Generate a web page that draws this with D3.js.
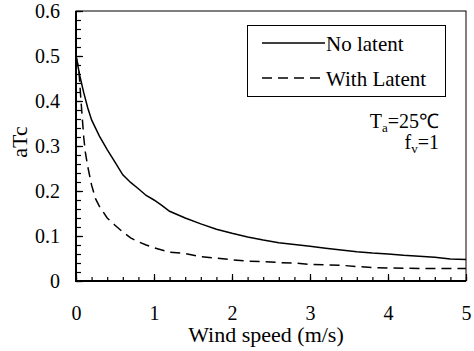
<!DOCTYPE html>
<html>
<head>
<meta charset="utf-8">
<script src="https://cdn.jsdelivr.net/npm/d3@7"></script>
</head>
<body style="margin:0;background:#fff">
<svg id="chart" width="474" height="351" font-family="Liberation Serif, Times New Roman, serif"></svg>
<script>
const width = 474;
const height = 351;
const margin = { top: 11, right: 8, bottom: 70, left: 76 };

// wind speed (m/s) and aTc
const windNoLatent = [0, 0.05, 0.1, 0.15, 0.2, 0.3, 0.4, 0.5, 0.6, 0.7, 0.8, 0.9, 1.0, 1.1, 1.2, 1.4, 1.6, 1.8, 2.0, 2.2, 2.4, 2.6, 2.8, 3.0, 3.2, 3.4, 3.6, 3.8, 4.0, 4.2, 4.4, 4.6, 4.8, 5.0];
const noLatent = [0.50, 0.455, 0.418, 0.385, 0.358, 0.322, 0.292, 0.264, 0.236, 0.219, 0.205, 0.190, 0.180, 0.168, 0.155, 0.140, 0.127, 0.115, 0.106, 0.098, 0.091, 0.085, 0.081, 0.077, 0.073, 0.069, 0.065, 0.062, 0.060, 0.057, 0.055, 0.053, 0.049, 0.048];

const windWithLatent = [0, 0.02, 0.04, 0.06, 0.08, 0.1, 0.12, 0.15, 0.2, 0.25, 0.3, 0.4, 0.5, 0.6, 0.7, 0.8, 0.9, 1.0, 1.2, 1.4, 1.6, 1.8, 2.0, 2.2, 2.4, 2.6, 2.8, 3.0, 3.2, 3.4, 3.6, 3.8, 4.0, 4.4, 5.0];
const withLatent = [0.50, 0.484, 0.462, 0.41, 0.363, 0.318, 0.286, 0.255, 0.213, 0.183, 0.166, 0.140, 0.124, 0.109, 0.096, 0.087, 0.080, 0.074, 0.064, 0.061, 0.054, 0.051, 0.047, 0.044, 0.043, 0.041, 0.040, 0.037, 0.036, 0.035, 0.032, 0.030, 0.029, 0.028, 0.028];

const xTicks = [0, 1, 2, 3, 4, 5];
const yTicks = [0, 0.1, 0.2, 0.3, 0.4, 0.5, 0.6];
const legendLabels = ["No latent", "With Latent"];

const svg = d3.select("#chart");

const x = d3.scaleLinear()
  .domain([0, 5])
  .range([margin.left, width - margin.right]);

const y = d3.scaleLinear()
  .domain([0, 0.6])
  .range([height - margin.bottom, margin.top]);

// frame: thin top/right, thicker left/bottom
svg.append("rect")
  .attr("x", x(0))
  .attr("y", y(0.6))
  .attr("width", x(5) - x(0))
  .attr("height", y(0) - y(0.6))
  .attr("fill", "none")
  .attr("stroke", "#000")
  .attr("stroke-width", 1);

// minor ticks
svg.append("g")
  .attr("transform", `translate(0,${y(0)})`)
  .call(d3.axisBottom(x).tickValues(d3.range(0, 5.001, 0.2)).tickSize(-4).tickFormat(""))
  .call(g => g.select(".domain").remove());

svg.append("g")
  .attr("transform", `translate(${x(0)},0)`)
  .call(d3.axisLeft(y).tickValues(d3.range(0, 0.601, 0.02)).tickSize(-5).tickFormat(""))
  .call(g => g.select(".domain").remove());

// major ticks + labels
svg.append("g")
  .attr("transform", `translate(0,${y(0)})`)
  .call(d3.axisBottom(x).tickValues(xTicks).tickSize(-7).tickPadding(25).tickFormat(d3.format("d")))
  .call(g => g.select(".domain").remove())
  .call(g => g.selectAll("text").attr("font-size", 20));

svg.append("g")
  .attr("transform", `translate(${x(0)},0)`)
  .call(d3.axisLeft(y).tickValues(yTicks).tickSize(-7).tickPadding(16)
    .tickFormat(d => d === 0 ? "0" : d3.format(".1f")(d)))
  .call(g => g.select(".domain").remove())
  .call(g => g.selectAll("text").attr("font-size", 20));

svg.selectAll("g").attr("font-family", null);
svg.selectAll(".tick line").attr("stroke", "#000").attr("stroke-width", 1.2);

// thick left and bottom axis lines
svg.append("line")
  .attr("x1", x(0)).attr("x2", x(5))
  .attr("y1", y(0)).attr("y2", y(0))
  .attr("stroke", "#000").attr("stroke-width", 2);
svg.append("line")
  .attr("x1", x(0)).attr("x2", x(0))
  .attr("y1", y(0) + 1).attr("y2", y(0.6))
  .attr("stroke", "#000").attr("stroke-width", 2);

// curves
const line = d3.line()
  .x(d => x(d[0]))
  .y(d => y(d[1]));

svg.append("path")
  .datum(d3.zip(windNoLatent, noLatent))
  .attr("fill", "none")
  .attr("stroke", "#000")
  .attr("stroke-width", 1.5)
  .attr("d", line);

svg.append("path")
  .datum(d3.zip(windWithLatent, withLatent))
  .attr("fill", "none")
  .attr("stroke", "#000")
  .attr("stroke-width", 1.5)
  .attr("stroke-dasharray", "10,6")
  .attr("d", line);

// axis titles
svg.append("text")
  .attr("x", 266)
  .attr("y", 342)
  .attr("text-anchor", "middle")
  .attr("font-size", 22)
  .text("Wind speed (m/s)");

svg.append("text")
  .attr("transform", "translate(27,142) rotate(-90)")
  .attr("text-anchor", "middle")
  .attr("font-size", 22)
  .text("aTc");

// legend
const legend = svg.append("g");
legend.append("rect")
  .attr("x", 247.5).attr("y", 25.5)
  .attr("width", 198).attr("height", 71)
  .attr("fill", "#fff")
  .attr("stroke", "#000")
  .attr("stroke-width", 1);

const legendY = [43, 78];
legendLabels.forEach((label, i) => {
  legend.append("line")
    .attr("x1", 262).attr("x2", 325)
    .attr("y1", legendY[i]).attr("y2", legendY[i])
    .attr("stroke", "#000")
    .attr("stroke-width", 1.5)
    .attr("stroke-dasharray", i === 1 ? "10,6" : null);
  legend.append("text")
    .attr("x", 326)
    .attr("y", legendY[i] + 8)
    .attr("font-size", 21)
    .text(label);
});

// annotation
const note1 = svg.append("text")
  .attr("x", 439).attr("y", 128)
  .attr("text-anchor", "end")
  .attr("font-size", 20);
note1.append("tspan").text("T");
note1.append("tspan").attr("font-size", 13).attr("dy", 4).text("a");
note1.append("tspan").attr("dy", -4).text("=25℃");

const note2 = svg.append("text")
  .attr("x", 439).attr("y", 149)
  .attr("text-anchor", "end")
  .attr("font-size", 20);
note2.append("tspan").text("f");
note2.append("tspan").attr("font-size", 13).attr("dy", 4).text("v");
note2.append("tspan").attr("dy", -4).text("=1");
</script>
</body>
</html>
